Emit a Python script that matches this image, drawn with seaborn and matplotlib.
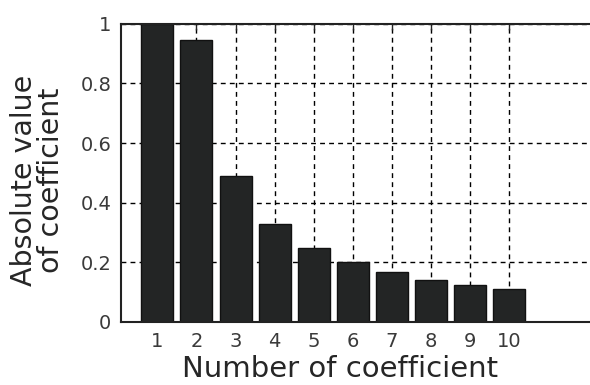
import matplotlib
matplotlib.use('Agg')
import matplotlib.pyplot as plt
import pandas as pd
import seaborn as sns

# coefficient magnitudes
coef_number = [1, 2, 3, 4, 5, 6, 7, 8, 9, 10]
abs_value = [1.0, 0.946, 0.488, 0.328, 0.247, 0.200, 0.168, 0.142, 0.123, 0.111]
y_ticks = [0, 0.2, 0.4, 0.6, 0.8, 1]
y_tick_labels = ['0', '0.2', '0.4', '0.6', '0.8', '1']

df = pd.DataFrame({'n': coef_number, 'value': abs_value})

sns.set_style('white')
plt.rcParams['font.family'] = ['DejaVu Sans']

fig = plt.figure(figsize=(5.9, 3.85), dpi=100)
# right edge of the axes runs off the canvas, as in the original
ax = fig.add_axes([0.205, 0.164, 0.824, 0.774])

ax.set_axisbelow(True)
ax.grid(True, color='black', linestyle=(0, (3.5, 3)), linewidth=1.0)

sns.barplot(data=df, x='n', y='value', native_scale=True, width=0.82,
            color='#232525', edgecolor='#111111', linewidth=1.0,
            saturation=1, ax=ax)

ax.set_xlim(0.07, 12.5)
ax.set_ylim(0, 1)
ax.set_xticks(coef_number)
ax.set_xticklabels([str(n) for n in coef_number])
ax.set_yticks(y_ticks)
ax.set_yticklabels(y_tick_labels)

ax.tick_params(direction='in', length=4, width=1, top=True, right=True,
               labelsize=14, labelcolor='#3a3a3a', pad=7)
for s in ax.spines.values():
    s.set_color('#222222')
    s.set_linewidth(1.5)

ax.set_xlabel('Number of coefficient', fontsize=21)
ax.xaxis.set_label_coords(0.45, -0.11)
ax.set_ylabel('Absolute value\nof coefficient', fontsize=20.5,
              linespacing=0.95)
ax.yaxis.set_label_coords(-0.115, 0.475)

fig.savefig('out.png', dpi=100)
